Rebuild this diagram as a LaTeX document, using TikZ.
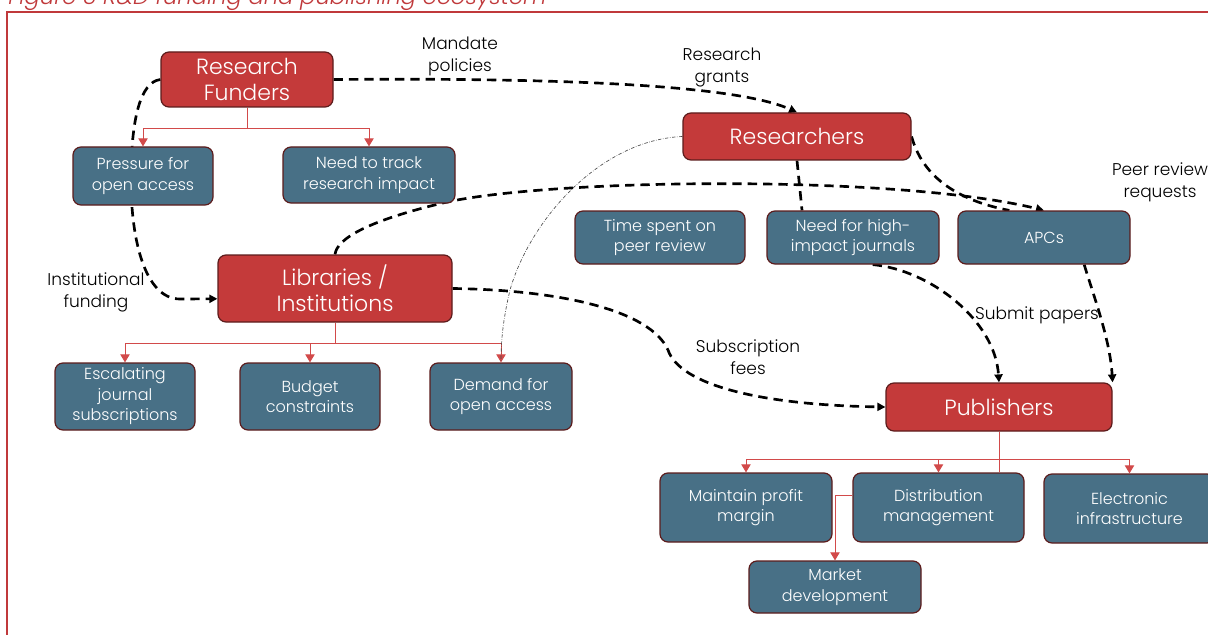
\documentclass[tikz,border=0pt]{standalone}
\usepackage{fontspec}
\setmainfont{Poppins}[UprightFont={* Light},ItalicFont={* Light Italic}]
\usetikzlibrary{arrows.meta,calc}
\definecolor{boxred}{RGB}{196,58,58}
\definecolor{boxblue}{RGB}{72,112,134}
\definecolor{boxedge}{RGB}{92,28,28}
\definecolor{linkred}{RGB}{210,74,74}
\definecolor{framered}{RGB}{192,57,59}
\pgfdeclarelayer{bg}
\pgfsetlayers{bg,main}
\begin{document}
\begin{tikzpicture}[x=0.75pt,y=-0.75pt,
  sz/.style 2 args={minimum width=#1*0.75pt, minimum height=#2*0.75pt},
  actor/.style={draw=boxedge, line width=0.9pt, fill=boxred, rounded corners=6pt,
    text=white, align=center, inner sep=0pt, font=\fontsize{16.5}{19.5}\selectfont},
  factor/.style={draw=boxedge, line width=0.9pt, fill=boxblue, rounded corners=6pt,
    text=white, align=center, inner sep=0pt, font=\fontsize{12}{15.4}\selectfont},
  tree/.style={draw=linkred, line width=0.75pt, -{Triangle[length=6pt,width=7pt]}},
  trunk/.style={draw=linkred, line width=0.75pt},
  flow/.style={draw=black, line width=2pt, dash pattern=on 7pt off 4.5pt,
    -{Triangle[length=6pt,width=6pt]}},
  flowplain/.style={draw=black, line width=2pt, dash pattern=on 7pt off 4.5pt},
  hint/.style={draw=black!70, line width=0.5pt,
    dash pattern=on 2.5pt off 1.2pt on 0.4pt off 1.2pt},
  lbl/.style={align=center, inner sep=0pt, font=\fontsize{12.75}{16.5}\selectfont}
]
\useasboundingbox (0,0) rectangle (1208,635);

% caption and frame
\node[anchor=base west, text=framered, inner sep=0pt,
  font=\itshape\fontsize{17}{19}\selectfont] (cap) at (8,5)
  {Figure 3 R\&D funding and publishing ecosystem};
\draw[framered, line width=1.5pt] (7,12) rectangle (1240,660);

% actors
\node[actor, sz={172}{55}] (fund) at (247,79.5) {Research\\Funders};
\node[actor, sz={228}{47}] (res) at (797,136.5) {Researchers};
\node[actor, sz={234}{67}] (lib) at (335,288.5) {Libraries /\\Institutions};
\node[actor, sz={226}{48}] (pub) at (999,407) {Publishers};

% factors
\node[factor, sz={140}{58}] (press) at (143,176) {Pressure for\\open access};
\node[factor, sz={172}{56}] (track) at (369,175) {Need to track\\research impact};
\node[factor, sz={170}{53}] (time) at (660,237.5) {Time spent on\\peer review};
\node[factor, sz={172}{53}] (high) at (853,237.5) {Need for high-\\impact journals};
\node[factor, sz={172}{53}] (apcs) at (1044,237.5) {APCs};
\node[factor, sz={140}{67}] (esc) at (125,396.5) {Escalating\\journal\\subscriptions};
\node[factor, sz={140}{67}] (budget) at (310,396.5) {Budget\\constraints};
\node[factor, sz={142}{67}] (demand) at (501,396.5) {Demand for\\open access};
\node[factor, sz={172}{69}] (profit) at (746,507.5) {Maintain profit\\margin};
\node[factor, sz={171}{69}] (distr) at (938.5,507.5) {Distribution\\management};
\node[factor, sz={171}{69}] (elec) at (1129.5,508.5) {Electronic\\infrastructure};
\node[factor, sz={172}{52}] (market) at (835,587) {Market\\development};

% connector labels
\node[lbl] (lmandate) at (460,56) {Mandate\\policies};
\node[lbl] (lgrants) at (722,67) {Research\\grants};
\node[lbl] (linst) at (96,292) {Institutional\\funding};
\node[lbl] (lpeer) at (1160,182) {Peer review\\requests};
\node[lbl] (lsubmit) at (1037,315) {Submit papers};
\node[lbl] (lsubs) at (748,357) {Subscription\\fees};

\begin{pgfonlayer}{bg}
\fill[white] (0,0) rectangle (1208,635);
% hierarchy links
\draw[tree] (fund.south) -- ++(0,21) -| (press.north);
\draw[tree] (fund.south) -- ++(0,21) -| (track.north);
\draw[tree] (lib.south) -- ++(0,21) -| (esc.north);
\draw[tree] (lib.south) -- ++(0,21) -| (budget.north);
\draw[tree] (lib.south) -- ++(0,21) -| (demand.north);
\draw[tree] (pub.south) -- ++(0,28) -| (profit.north);
\draw[tree] (pub.south) -- ++(0,28) -| (distr.north);
\draw[tree] (pub.south) -- ++(0,28) -| (elec.north);
\draw[trunk] (pub.south) -- (pub.south |- distr.north);
\draw[tree] (distr.172) -| (market.north);

% flows between actors
\draw[flow] (fund.east) .. controls (520,78) and (730,82) .. (res.north);
\draw[flow] (fund.west) .. controls (140,82) and (131,120) .. (131,180)
  .. controls (131,240) and (145,299) .. (180,299) -- (lib.185);
\draw[flow] (lib.north) .. controls (337,238) and (370,220) .. (447,202)
  .. controls (560,178) and (900,175) .. (apcs.north);
\draw[flowplain] (res.east) .. controls (922,175) and (955,200) .. (apcs.142);
\draw[flowplain] (res.south) -- (high.152);
\draw[flow] (high.306) .. controls (930,270) and (995,320) .. (pub.north);
\draw[flow] (apcs.326) .. controls (1095,300) and (1110,340) .. (pub.north east);
\draw[flow] (lib.east) .. controls (560,290) and (650,310) .. (668,350)
  .. controls (680,385) and (760,405) .. (pub.west);
\draw[hint] (res.west) .. controls (600,140) and (530,220) .. (510,290)
  .. controls (503,320) and (501,340) .. (demand.north);
\end{pgfonlayer}
\end{tikzpicture}
\end{document}
